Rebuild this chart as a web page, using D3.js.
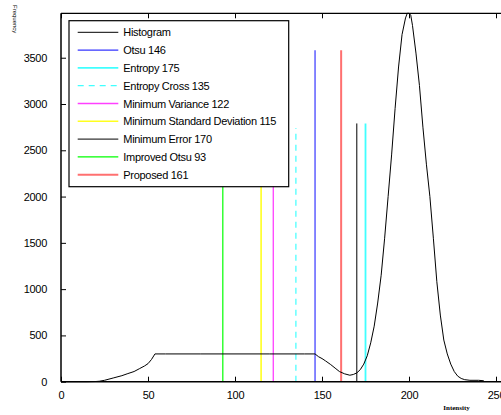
<!DOCTYPE html>
<html>
<head>
<meta charset="utf-8">
<script src="https://cdn.jsdelivr.net/npm/d3@7"></script>
<style>
  html, body { margin: 0; padding: 0; background: #fff; }
  svg { display: block; }
  text { font-family: "Liberation Sans", Arial, sans-serif; }
</style>
</head>
<body>
<svg id="chart" width="501" height="415"></svg>
<script>
// Histograma de intensidad + umbrales de cada método

const histX = [0, 5, 10, 15, 20, 22, 25, 30, 35, 38, 42, 45, 48, 50, 52, 54, 60, 80, 100, 120, 140, 146,
  148, 150, 152, 155, 158, 160, 163, 166, 168, 170, 172, 174, 176, 178, 180, 182, 184, 186, 188, 190,
  192, 194, 196, 198, 199, 200, 201, 202, 204, 206, 208, 210, 212, 214, 216, 218, 220, 222, 224, 226,
  228, 230, 232, 235, 240, 243];
const histY = [0, 0, 0, 0, 2, 5, 15, 40, 65, 85, 110, 140, 170, 195, 240, 300, 300, 300, 300, 300, 300, 300,
  270, 250, 225, 185, 140, 110, 85, 70, 78, 95, 130, 190, 280, 420, 600, 850, 1150, 1550, 2000, 2450,
  2950, 3400, 3750, 3930, 3980, 3980, 3960, 3850, 3550, 3200, 2750, 2350, 2000, 1550, 1080, 720, 450, 300, 190, 110,
  60, 35, 22, 15, 15, 10];

const methodNames = ['Otsu 146', 'Entropy 175', 'Entropy Cross 135', 'Minimum Variance 122',
  'Minimum Standard Deviation 115', 'Minimum Error 170', 'Improved Otsu 93', 'Proposed 161'];
const thresholds = [146, 175, 135, 122, 115, 170, 93, 161];
const lineHeights = [3580, 2790, 2740, 2900, 2900, 2790, 2900, 3580];

const xTicks = [0, 50, 100, 150, 200, 250];
const yTicks = [0, 500, 1000, 1500, 2000, 2500, 3000, 3500];

const STYLES = [
  { color: '#3535ff', w: 1.2, dash: null },
  { color: '#40ffff', w: 1.8, dash: null },
  { color: '#40ffff', w: 1.2, dash: '6,5' },
  { color: '#ff40ff', w: 1.3, dash: null },
  { color: '#ffff20', w: 1.6, dash: null },
  { color: '#000000', w: 1, dash: null },
  { color: '#00ff00', w: 1.2, dash: null },
  { color: '#ff7070', w: 2, dash: null },
];

const svg = d3.select('#chart');
const x = d3.scaleLinear().domain([0, 255]).range([61, 504.7]);
const y = d3.scaleLinear().domain([0, 3980]).range([381.7, 13.3]);

const gPlot = svg.append('g');

// líneas de umbral
thresholds.forEach((t, i) => {
  const st = STYLES[i];
  gPlot.append('line')
    .attr('x1', x(t)).attr('x2', x(t))
    .attr('y1', y(0)).attr('y2', y(lineHeights[i]))
    .attr('stroke', st.color).attr('stroke-width', st.w)
    .attr('stroke-dasharray', st.dash);
});

// histograma
const line = d3.line().x((d, i) => x(histX[i])).y(d => y(d));
gPlot.append('path').datum(histY)
  .attr('d', line).attr('fill', 'none')
  .attr('stroke', '#000').attr('stroke-width', 1);

// ejes (caja estilo Matlab, ticks hacia dentro)
const frame = svg.append('g');
frame.append('line').attr('x1', x(0)).attr('x2', x(255)).attr('y1', y(0)).attr('y2', y(0))
  .attr('stroke', '#000').attr('stroke-width', 1.5);
frame.append('line').attr('x1', x(0)).attr('x2', x(255)).attr('y1', y(3980)).attr('y2', y(3980))
  .attr('stroke', '#000').attr('stroke-width', 1.2);
frame.append('line').attr('x1', x(0)).attr('x2', x(0)).attr('y1', y(0)).attr('y2', y(3980))
  .attr('stroke', '#000').attr('stroke-width', 1.5);

const bottomAxis = d3.axisBottom(x).tickValues(xTicks).tickSizeInner(-5).tickSizeOuter(0)
  .tickPadding(10).tickFormat(d3.format('d'));
const gx = svg.append('g').attr('transform', `translate(0,${y(0)})`).call(bottomAxis);
const topAxis = d3.axisTop(x).tickValues(xTicks).tickSizeInner(-5).tickSizeOuter(0).tickFormat('');
const gxt = svg.append('g').attr('transform', `translate(0,${y(3980)})`).call(topAxis);
const leftAxis = d3.axisLeft(y).tickValues(yTicks).tickSizeInner(-5).tickSizeOuter(0)
  .tickPadding(14).tickFormat(d3.format('d'));
const gy = svg.append('g').attr('transform', `translate(${x(0)},0)`).call(leftAxis);
[gx, gxt, gy].forEach(g => {
  g.select('.domain').remove();
  g.selectAll('.tick line').attr('stroke', '#000').attr('stroke-width', 1);
  g.selectAll('.tick text').attr('fill', '#000').style('font-size', '11px')
    .style('font-family', '"Liberation Sans", Arial, sans-serif').style('letter-spacing', '-0.3px');
});

// leyenda
const LG = { x: 69, y: 20.7, w: 219.7, h: 166, step: 17.8 };
const gLeg = svg.append('g');
gLeg.append('rect').attr('x', LG.x).attr('y', LG.y).attr('width', LG.w).attr('height', LG.h)
  .attr('fill', '#fff').attr('stroke', '#000').attr('stroke-width', 1.2);
const legNames = ['Histogram'].concat(methodNames);
const legStyles = [{ color: '#000', w: 1, dash: null }].concat(STYLES);
legNames.forEach((nm, i) => {
  const yy = 32.3 + i * LG.step;
  const st = legStyles[i];
  gLeg.append('line').attr('x1', 77.7).attr('x2', 118.3).attr('y1', yy).attr('y2', yy)
    .attr('stroke', st.color).attr('stroke-width', st.w).attr('stroke-dasharray', st.dash);
  gLeg.append('text').attr('x', 123.3).attr('y', yy + 4).text(nm)
    .style('font-size', '11px').style('letter-spacing', '-0.3px').attr('fill', '#000');
});

// títulos de ejes
svg.append('text').attr('transform', 'translate(13,5) rotate(90)')
  .text('Frequency').style('font-size', '6px').attr('fill', '#000');
svg.append('text').attr('x', 456.5).attr('y', 410).attr('text-anchor', 'middle')
  .text('Intensity').style('font-family', '"Liberation Serif", "Times New Roman", serif')
  .style('font-weight', 'bold').style('font-size', '7px').attr('fill', '#000');
</script>
</body>
</html>
